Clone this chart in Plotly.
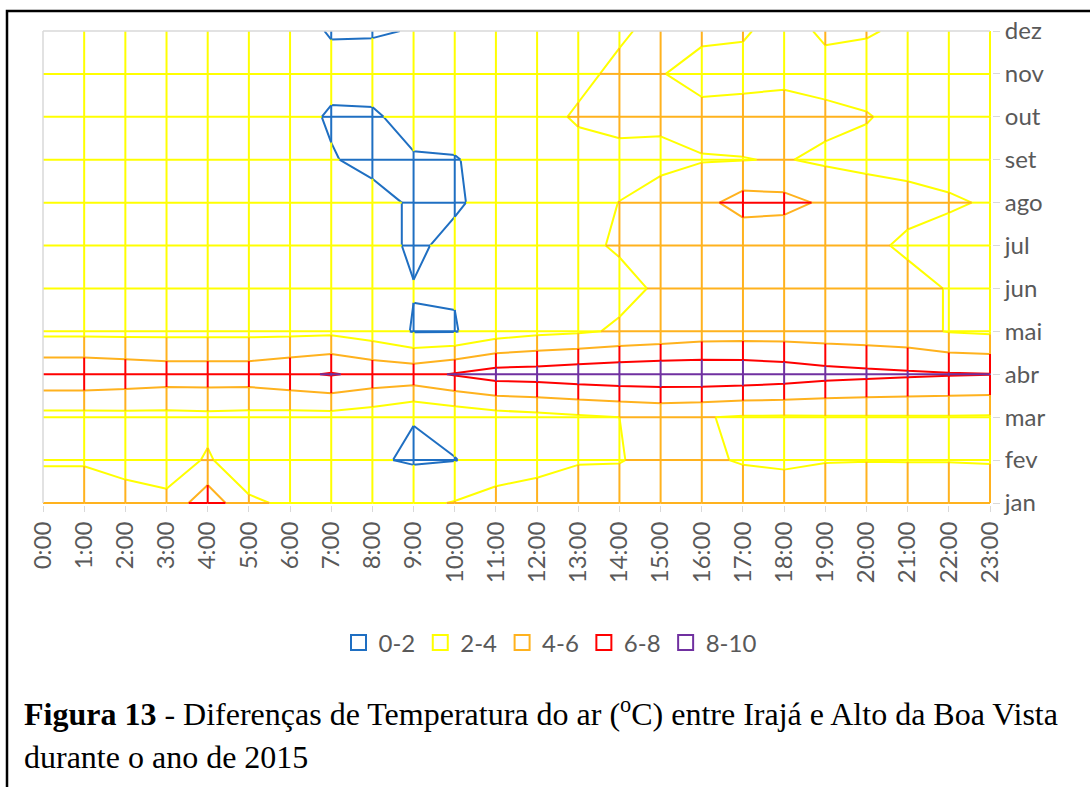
import numpy as np
import plotly.graph_objects as go

# ---------------- data ----------------
hours = [f"{h}:00" for h in range(24)]
months = ["jan", "fev", "mar", "abr", "mai", "jun", "jul", "ago", "set", "out", "nov", "dez"]
bands = ["0-2", "2-4", "4-6", "6-8", "8-10"]
levels = [2, 4, 6, 8]

jan = [4.6, 4.6, 4.6, 4.5, 7.3, 4.3, 3.7, 3.5, 3.5, 3.6, 4.1, 4.9, 5.0, 4.8, 4.6, 4.7, 4.8, 4.8, 4.7, 4.7, 4.7, 4.6, 4.6, 4.5]
fev = [3.9, 3.9, 3.5, 3.0, 4.2, 2.8, 3.0, 2.8, 2.2, 1.8, 1.95, 2.6, 3.3, 3.9, 3.95, 4.3, 4.2, 3.9, 3.8, 3.95, 3.97, 3.97, 3.97, 3.95]
mar = [3.35, 3.35, 3.4, 3.4, 3.5, 3.4, 3.3, 3.3, 2.9, 2.05, 2.6, 3.1, 3.4, 3.7, 4.0, 4.25, 4.1, 3.8, 3.8, 3.85, 3.85, 3.85, 3.85, 3.8]
abr = [7.6, 7.6, 7.35, 7.1, 7.1, 7.1, 7.6, 8.15, 7.5, 7.35, 8.15, 8.9, 9.0, 9.3, 9.5, 9.6, 9.6, 9.5, 9.2, 8.75, 8.5, 8.3, 8.15, 8.05]
mai = [3.5, 3.5, 3.5, 3.5, 3.5, 3.5, 3.5, 3.6, 3.0, 1.9, 1.9, 3.0, 3.5, 3.75, 4.2, 4.5, 4.9, 5.0, 5.0, 4.9, 4.8, 4.6, 3.9, 3.7]
jun = [3.0, 3.0, 3.0, 3.0, 3.0, 3.0, 2.9, 2.8, 2.5, 2.05, 2.1, 2.6, 3.0, 3.3, 3.6, 4.2, 4.5, 4.6, 4.6, 4.5, 4.4, 4.6, 3.9, 3.6]
jul = [3.0, 3.0, 3.0, 3.0, 3.0, 3.0, 3.0, 2.9, 2.5, 1.8, 2.3, 3.0, 3.4, 3.7, 4.15, 4.5, 4.6, 4.5, 4.5, 4.5, 4.4, 3.7, 3.2, 3.2]
ago = [3.0, 3.0, 3.0, 3.0, 3.0, 3.0, 3.0, 2.6, 2.5, 1.8, 1.85, 2.4, 3.0, 3.5, 4.02, 5.0, 5.4, 6.8, 6.6, 5.7, 5.0, 4.5, 4.25, 3.8]
set_ = [3.0, 3.0, 3.0, 3.0, 3.0, 3.0, 2.8, 2.1, 1.6, 1.9, 1.9, 2.6, 3.0, 3.2, 3.5, 3.4, 3.9, 3.95, 4.1, 3.7, 3.5, 3.5, 3.2, 3.2]
out = [3.0, 3.0, 3.0, 3.0, 3.0, 3.0, 2.5, 1.85, 1.85, 2.4, 2.8, 3.0, 3.3, 4.25, 4.5, 4.5, 4.6, 4.7, 4.6, 4.4, 4.1, 3.5, 3.2, 3.2]
nov = [3.0, 3.0, 3.0, 3.0, 3.0, 3.0, 3.0, 2.4, 2.5, 2.8, 3.0, 3.0, 3.2, 3.5, 4.45, 4.1, 3.3, 3.4, 3.65, 3.4, 3.3, 3.2, 3.2, 3.2]
dez = [3.0, 3.0, 3.0, 3.0, 3.0, 3.0, 2.5, 1.9, 1.9, 2.05, 2.8, 3.0, 3.2, 3.5, 3.7, 4.6, 4.4, 4.2, 3.3, 4.3, 4.15, 3.7, 3.5, 3.3]

# ---------------- styles ----------------
band_colors = ["#1F6FC2", "#FFFF00", "#FFB21E", "#FF0000", "#7030A0"]
AX_FONT = dict(family="Lato, 'Open Sans', sans-serif", size=24, color="#595959")
CAP_FONT = dict(family="'Liberation Serif', 'Times New Roman', serif", size=32, color="black")
W, H = 1090, 787
L, R, T, B = 43, 98, 31, 282
PW, PH = W - L - R, H - T - B

Z = np.array([jan, fev, mar, abr, mai, jun, jul, ago, set_, out, nov, dez], dtype=float)
nr, nc = Z.shape
xs_idx = np.arange(nc)
ys_idx = np.arange(nr)


def band_of(v):
    return int(min(max(v // 2, 0), 4))


seg_x = {b: [] for b in range(5)}
seg_y = {b: [] for b in range(5)}


def add_edge(x0, y0, x1, y1, v0, v1):
    ts = [0.0, 1.0]
    lo, hi = min(v0, v1), max(v0, v1)
    for lv in levels:
        if lo < lv < hi:
            ts.append((lv - v0) / (v1 - v0))
    ts.sort()
    for ta, tb in zip(ts[:-1], ts[1:]):
        vm = v0 + (ta + tb) / 2 * (v1 - v0)
        b = band_of(vm)
        seg_x[b] += [x0 + ta * (x1 - x0), x0 + tb * (x1 - x0), None]
        seg_y[b] += [y0 + ta * (y1 - y0), y0 + tb * (y1 - y0), None]


# wireframe: horizontal lines for every month but the top edge, verticals for every hour but the left edge
for r in range(nr - 1):
    for c in range(nc - 1):
        add_edge(xs_idx[c], ys_idx[r], xs_idx[c + 1], ys_idx[r], Z[r, c], Z[r, c + 1])
for c in range(1, nc):
    for r in range(nr - 1):
        add_edge(xs_idx[c], ys_idx[r], xs_idx[c], ys_idx[r + 1], Z[r, c], Z[r + 1, c])

fig = go.Figure()

for b in range(5):
    fig.add_trace(go.Scatter(x=seg_x[b], y=seg_y[b], mode="lines",
                             line=dict(color=band_colors[b], width=2),
                             hoverinfo="skip", showlegend=False))

cs = [[0, band_colors[0]], [0.16, band_colors[0]], [0.16, band_colors[1]], [0.5, band_colors[1]],
      [0.5, band_colors[2]], [0.84, band_colors[2]], [0.84, band_colors[3]], [1, band_colors[3]]]
fig.add_trace(go.Contour(z=Z, x=xs_idx, y=ys_idx,
                         contours=dict(start=2, end=8, size=2, coloring="lines"),
                         line=dict(width=2, smoothing=0),
                         colorscale=cs, zmin=2, zmax=8, zauto=False,
                         showscale=False, hoverinfo="skip", showlegend=False))

for b in range(5):
    fig.add_trace(go.Scatter(x=[None], y=[None], mode="markers", name=bands[b],
                             marker=dict(symbol="square-open", size=15,
                                         color=band_colors[b], line=dict(width=2, color=band_colors[b]))))


def px(xp):
    return (xp - L) / PW


def py(yp):
    return (H - B - yp) / PH


fig.update_layout(
    width=W, height=H,
    margin=dict(l=L, r=R, t=T, b=B, pad=0),
    paper_bgcolor="white", plot_bgcolor="white",
    xaxis=dict(tickmode="array", tickvals=list(xs_idx), ticktext=hours, tickangle=-90,
               range=[0, (nc - 1) * PW / (PW - 2)], showgrid=False, zeroline=False, showline=False,
               ticks="outside", ticklen=6, tickcolor="#D9D9D9", tickfont=AX_FONT),
    yaxis=dict(tickmode="array", tickvals=list(ys_idx), ticktext=months, side="right",
               range=[-(nr - 1) * 2 / (PH - 2), nr - 1], showgrid=False, zeroline=False, showline=False,
               ticks="outside", ticklen=7, tickcolor="#D9D9D9", tickfont=AX_FONT),
    legend=dict(orientation="h", x=px(550), xanchor="center", y=py(643), yanchor="middle",
                font=dict(family="Lato, 'Open Sans', sans-serif", size=24, color="#595959"),
                itemwidth=30, traceorder="normal", bgcolor="rgba(0,0,0,0)"),
    shapes=[
        dict(type="line", xref="paper", yref="paper", x0=0, x1=0, y0=py(503), y1=1,
             line=dict(color="#D9D9D9", width=1.5)),
        dict(type="line", xref="paper", yref="paper", x0=0, x1=px(990), y0=1, y1=1,
             line=dict(color="#D9D9D9", width=1.5)),
        dict(type="rect", xref="paper", yref="paper", x0=px(7), x1=px(1110), y0=py(800), y1=py(11),
             line=dict(color="black", width=2.5), layer="above"),
    ],
    annotations=[
        dict(xref="paper", yref="paper", x=px(22), y=py(712), xanchor="left", yanchor="middle",
             showarrow=False, align="left",
             text="<b>Figura 13</b> - Diferenças de Temperatura do ar (<sup>o</sup>C) entre Irajá e Alto da Boa Vista",
             font=CAP_FONT),
        dict(xref="paper", yref="paper", x=px(22), y=py(757), xanchor="left", yanchor="middle",
             showarrow=False, align="left", text="durante o ano de 2015",
             font=CAP_FONT),
    ],
)

fig.write_html("out.html", post_script="document.body.style.margin='0px';",
               config={"responsive": False, "displayModeBar": False})
